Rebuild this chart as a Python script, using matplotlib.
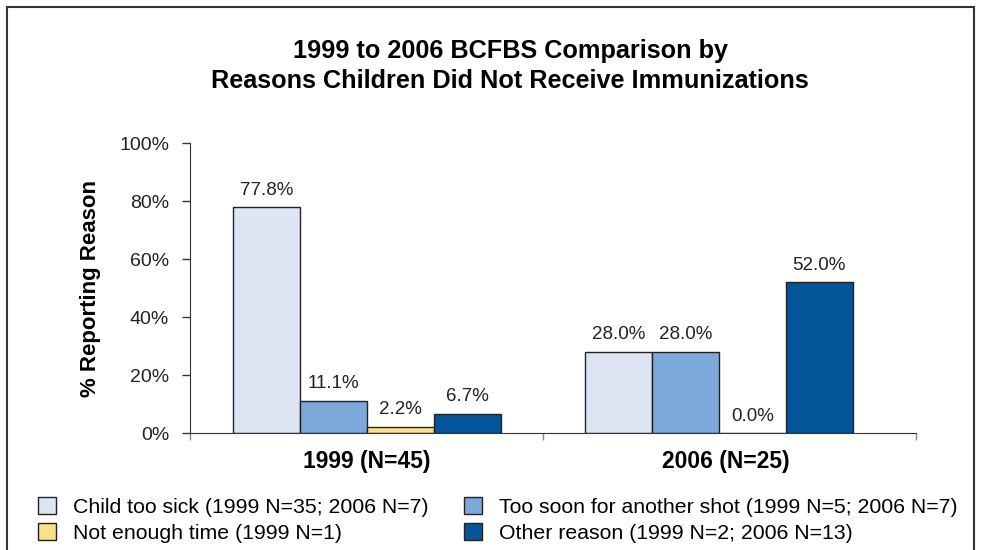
import numpy as np
import matplotlib.pyplot as plt
from matplotlib.patches import Rectangle

plt.rcParams['font.family'] = ['Liberation Sans', 'DejaVu Sans']

# survey data
years = ['1999 (N=45)', '2006 (N=25)']
reasons = ['Child too sick (1999 N=35; 2006 N=7)',
           'Too soon for another shot (1999 N=5; 2006 N=7)',
           'Not enough time (1999 N=1)',
           'Other reason (1999 N=2; 2006 N=13)']
too_sick = [77.8, 28.0]
too_soon = [11.1, 28.0]
no_time = [2.2, 0.0]
other = [6.7, 52.0]
colors = ['#DDE4F3', '#7BA7D9', '#FADF8C', '#025598']

fig = plt.figure(figsize=(9.81, 5.5), dpi=100)
ax = fig.add_axes([0.1937, 0.2127, 0.74, 0.5273])

x = np.arange(len(years))
w = 0.19
bars = []
for i, (vals, c) in enumerate(zip([too_sick, too_soon, no_time, other], colors)):
    b = ax.bar(x + (i - 1.5) * w, vals, w, color=c, edgecolor='#222222', linewidth=1, label=reasons[i])
    bars.append(b)
    for xi, v in zip(x + (i - 1.5) * w, vals):
        ax.annotate('%.1f%%' % v, (xi, v), xytext=(0, 6), textcoords='offset points',
                    ha='center', va='bottom', fontsize=13.5, color='#222222')

ax.set_ylim(0, 100)
ax.set_xlim(-0.503, 1.56)
ax.set_yticks(np.arange(0, 101, 20))
ax.set_yticklabels(['%d%%' % t for t in range(0, 101, 20)], fontsize=14, color='#222222')
ax.set_xticks([-0.503, 0.5, 1.56])
ax.set_xticklabels([])
ax.tick_params(axis='y', length=6, width=1, color='#333333', pad=9)
ax.tick_params(axis='x', length=5, width=1, color='#888888')
ax.spines['top'].set_visible(False)
ax.spines['right'].set_visible(False)
ax.spines['left'].set_color('#333333')
ax.spines['bottom'].set_color('#333333')

# category labels under the groups
for cx, lab in zip([0.0, 1.02], years):
    ax.text(cx, -5.8, lab, ha='center', va='top', fontsize=16.5, fontweight='bold',
            transform=ax.transData)

ax.set_ylabel('% Reporting Reason', fontsize=16, fontweight='bold', labelpad=13)

fig.text(0.52, 0.88, '1999 to 2006 BCFBS Comparison by\nReasons Children Did Not Receive Immunizations',
         ha='center', va='center', fontsize=18.2, fontweight='bold', linespacing=1.35)

handles = [bars[0], bars[2], bars[1], bars[3]]
labels = [reasons[0], reasons[2], reasons[1], reasons[3]]
fig.legend(handles, labels, ncol=2, loc='upper left', bbox_to_anchor=(0.030, 0.112),
           frameon=False, fontsize=15.3, handlelength=0.85, handleheight=0.85,
           handletextpad=0.8, columnspacing=1.65, labelspacing=0.3, borderaxespad=0)

# outer frame
fig.patches.append(Rectangle((7 / 981, -0.02), 967 / 981, 1.02 - 7 / 550, transform=fig.transFigure,
                             fill=False, edgecolor='#333333', linewidth=1.5))

fig.savefig('out.png', dpi=100)
